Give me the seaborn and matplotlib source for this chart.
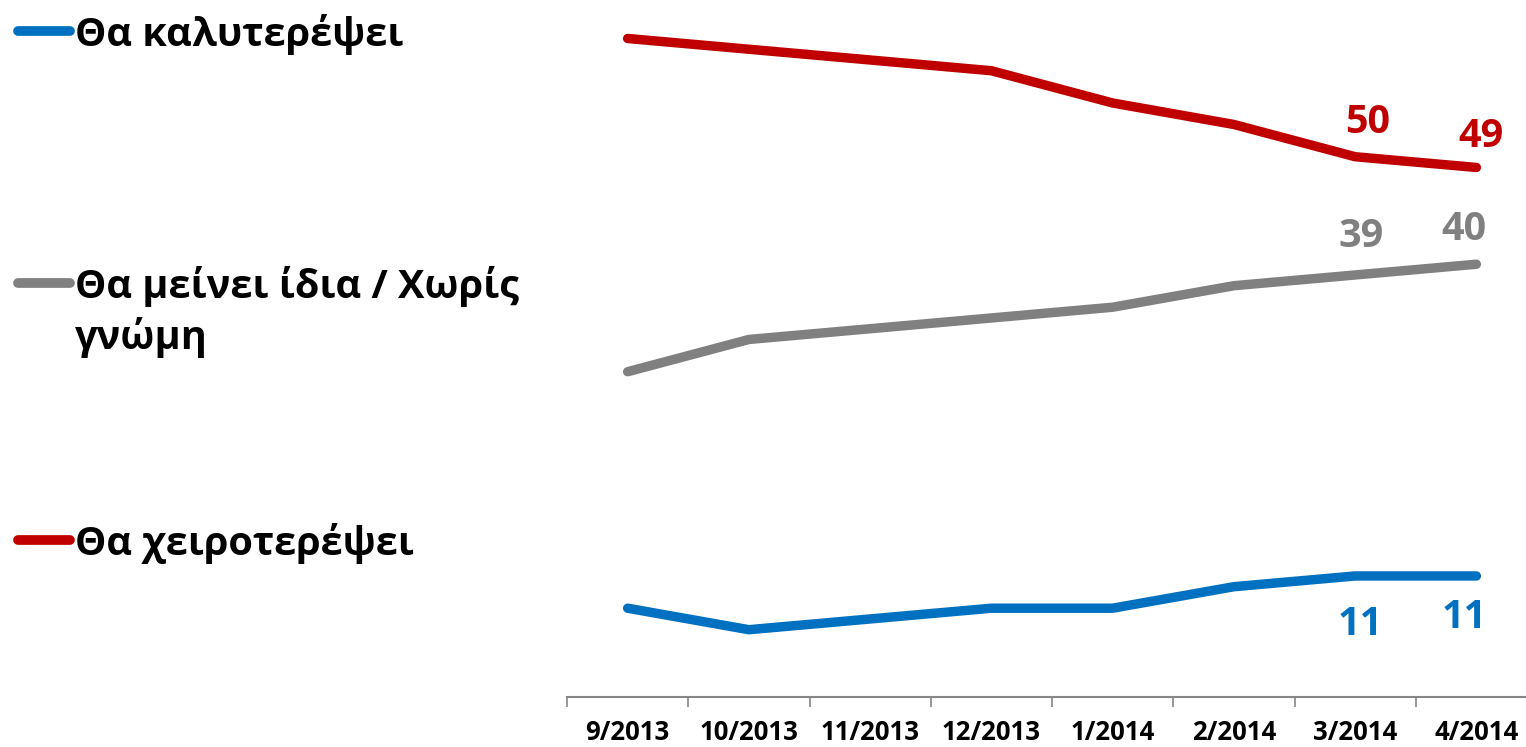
import pandas as pd
import matplotlib.pyplot as plt
import seaborn as sns
from matplotlib.lines import Line2D
from matplotlib.ticker import FixedLocator

# Data
months = ['9/2013', '10/2013', '11/2013', '12/2013', '1/2014', '2/2014', '3/2014', '4/2014']
better = [8, 6, 7, 8, 8, 10, 11, 11]
same = [30, 33, 34, 35, 36, 38, 39, 40]
worse = [61, 60, 59, 58, 55, 53, 50, 49]

names = ['Θα καλυτερέψει', 'Θα μείνει ίδια / Χωρίς\nγνώμη', 'Θα χειροτερέψει']
colors = ['#0070C0', '#808080', '#C00000']
series = [better, same, worse]

rows = []
for name, vals in zip(names, series):
    for i, v in enumerate(vals):
        rows.append({'x': i, 'value': v, 'series': name})
df = pd.DataFrame(rows)

sns.set_style('white')
plt.rcParams['font.family'] = ['Open Sans', 'DejaVu Sans']

fig = plt.figure(figsize=(15.26, 7.47), dpi=100)
W, H = 1526, 747
ax = fig.add_axes([567 / W, 50 / H, 970 / W, 697 / H])

sns.lineplot(data=df, x='x', y='value', hue='series', palette=dict(zip(names, colors)),
             linewidth=6.8, ax=ax, legend=False, sort=False)
for ln in ax.get_lines():
    ln.set_solid_capstyle('round')
    ln.set_solid_joinstyle('round')
    ln.set_clip_on(False)

ax.set_xlim(-0.5, 7.5)
ax.set_ylim(-0.26, 64.58)
ax.set_xlabel('')
ax.set_ylabel('')
ax.set_yticks([])
ax.set_xticks(range(len(months)))
ax.set_xticklabels(months, fontsize=18.5, fontweight='bold', color='black')
ax.xaxis.set_minor_locator(FixedLocator([i - 0.5 for i in range(len(months))]))
ax.tick_params(axis='x', which='major', length=0, pad=16)
ax.tick_params(axis='x', which='minor', length=7, width=1.2, color='#868686', bottom=True)
for side in ['top', 'right', 'left']:
    ax.spines[side].set_visible(False)
ax.spines['bottom'].set_color('#868686')
ax.spines['bottom'].set_linewidth(1.5)

# value labels on the last two points
offsets = {
    0: [(4, -35), (-9, -30)],
    1: [(4, 28), (-9, 25)],
    2: [(9, 25), (3, 22)],
}
for k, vals in enumerate(series):
    for j, idx in enumerate([6, 7]):
        ax.annotate(str(vals[idx]), (idx, vals[idx]), textcoords='offset points',
                    xytext=offsets[k][j], ha='center', va='center',
                    fontsize=28.5, fontweight='bold', color=colors[k])

# legend on the left
legend_y = [31, 283, 540]
for name, c, y in zip(names, colors, legend_y):
    fig.add_artist(Line2D([18 / W, 70 / W], [1 - y / H, 1 - y / H], color=c,
                          linewidth=7, solid_capstyle='round', transform=fig.transFigure))
    for n, part in enumerate(name.split('\n')):
        base = y + 15 + n * 51
        fig.text(75 / W, 1 - base / H, part, fontsize=28.5, fontweight='bold',
                 color='black', va='baseline', ha='left')

fig.savefig('out.png', dpi=100)
